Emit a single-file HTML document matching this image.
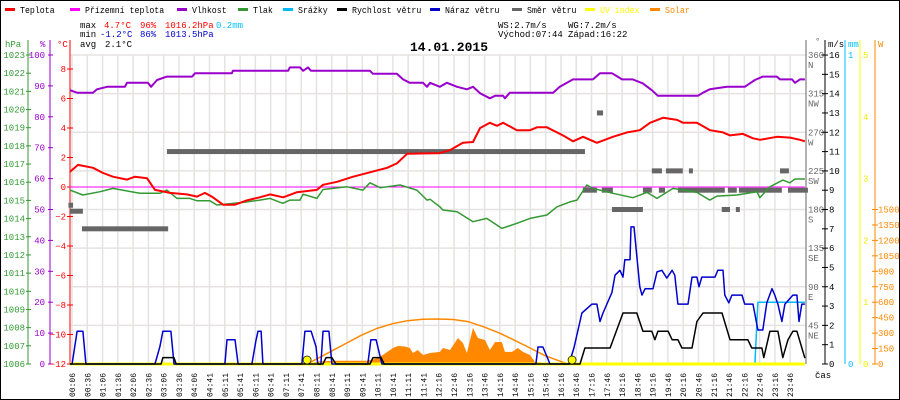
<!DOCTYPE html>
<html><head><meta charset="utf-8"><style>
html,body{margin:0;padding:0;background:#fff}
svg{display:block}
text{font-family:"Liberation Mono",monospace}
</style></head><body>
<svg id="chart" width="900" height="400" viewBox="0 0 900 400" xmlns="http://www.w3.org/2000/svg">
<rect x="0.5" y="0.5" width="899" height="399" fill="#fff" stroke="#000"/>
<g id="grid"></g>
<g id="legend"></g>
<g id="stats" font-size="9">
 <text x="80" y="28" fill="#000">max</text><text x="104" y="28" fill="#f00">4.7°C</text><text x="140" y="28" fill="#f00">96%</text><text x="165" y="28" fill="#f00">1016.2hPa</text><text x="216" y="28" fill="#00bfff">0.2mm</text>
 <text x="80" y="37" fill="#000">min</text><text x="100" y="37" fill="#00c">-1.2°C</text><text x="140" y="37" fill="#00c">86%</text><text x="165" y="37" fill="#00c">1013.5hPa</text>
 <text x="80" y="47" fill="#000">avg</text><text x="105" y="47" fill="#000">2.1°C</text>
 <text x="498" y="28" fill="#000">WS:2.7m/s</text><text x="568" y="28" fill="#000">WG:7.2m/s</text>
 <text x="498" y="37" fill="#000">Východ:07:44</text><text x="568" y="37" fill="#000">Západ:16:22</text>
</g>
<text x="449" y="51" text-anchor="middle" font-size="13" font-weight="bold" fill="#000">14.01.2015</text>
<g id="axes"></g>
<g id="series"></g>
</svg>
<script>
// ===== data =====
const xLabels=["00:06","00:36","01:06","01:36","02:06","02:36","03:06","03:36","04:06","04:41","05:11","05:41","06:11","06:41","07:11","07:41","08:11","08:41","09:11","09:41","10:11","10:41","11:11","11:41","12:16","12:46","13:16","13:46","14:16","14:46","15:16","15:46","16:16","16:46","17:16","17:46","18:16","18:46","19:16","19:46","20:16","20:46","21:16","21:46","22:16","22:46","23:16","23:46"];
const tempT=[0,0.26,0.75,1.08,1.4,1.86,2.12,2.51,2.77,3.26,3.81,4.14,4.4,4.66,4.99,5.38,5.77,6.19,6.52,6.95,7.4,8.05,8.25,8.71,9.23,9.78,10.34,10.66,10.99,12.06,12.39,12.81,13.14,13.37,13.69,13.92,14.12,14.57,15.0,15.23,15.55,16.07,16.4,16.73,17.18,17.7,18.16,18.58,18.91,19.34,19.79,19.99,20.44,20.87,21.29,21.52,21.94,22.27,22.5,23.05,23.48,23.8,23.96];
const tempV=[1.04,1.5,1.3,0.95,0.7,0.5,0.7,0.6,-0.2,-0.4,-0.5,-0.65,-0.4,-0.7,-1.2,-1.2,-0.9,-0.7,-0.5,-0.7,-0.35,-0.2,0.15,0.35,0.7,1.0,1.3,1.6,2.25,2.3,2.5,3.0,3.05,4.0,4.35,4.15,4.35,3.85,3.85,4.05,4.05,3.5,3.1,3.4,3.0,3.4,3.7,3.85,4.35,4.7,4.55,4.35,4.35,3.85,3.7,3.5,3.6,3.3,3.2,3.4,3.35,3.2,3.1];
const feelsT=[0,23.96];
const feelsV=[0,0];
const humT=[0,0.23,0.75,0.88,1.21,1.79,1.86,2.54,2.64,2.84,3.16,3.98,4.08,5.28,5.31,7.11,7.17,7.5,7.6,7.76,7.86,9.78,9.88,10.66,10.86,11.08,11.51,11.64,11.74,12.06,12.29,12.62,12.94,13.14,13.37,13.69,13.86,14.12,14.18,14.34,15.75,15.97,16.4,17.05,17.28,17.67,18.0,18.35,18.68,18.97,19.17,20.47,20.64,20.86,21.42,22.0,22.33,22.59,23.05,23.15,23.54,23.64,23.8,23.96];
const humV=[88.6,87.8,87.8,88.9,89.7,89.7,91,91,89.7,91.9,93,93,94.1,94.1,94.9,94.9,96,96,94.9,96,94.9,94.9,93.9,93.9,92.1,91,91,89.7,91,89.7,91,89.7,88.9,89.7,87.6,86,86.8,86.8,86,87.8,87.8,89.7,92.1,92.1,94.1,94.1,92.1,92.1,90.8,88.6,86.8,86.8,87.8,88.9,89.7,89.7,91.9,93,93,92.1,92.1,91,92.1,92.1];
const presT=[0,0.42,0.98,1.4,2.28,2.93,3.16,3.49,3.91,4.14,4.56,4.79,5.64,6.19,6.52,6.94,7.17,7.5,7.6,8.05,8.25,8.57,9.03,9.55,9.78,10.11,10.76,11.31,11.64,11.74,12.06,12.16,12.62,13.14,13.59,14.08,14.57,15.0,15.55,15.88,16.3,16.53,16.85,17.05,17.7,18.35,18.81,19.14,19.66,20.44,20.86,21.09,21.74,22.4,22.49,22.82,23.24,23.47,23.64,23.96];
const presV=[1015.57,1015.3,1015.48,1015.66,1015.39,1015.39,1015.57,1015.11,1015.11,1014.98,1014.98,1014.75,1014.89,1015.02,1015.11,1014.84,1015.02,1015.02,1015.34,1015.11,1015.6,1015.66,1015.75,1015.57,1015.97,1015.7,1015.85,1015.57,1015.02,1015.06,1014.65,1014.47,1014.38,1013.83,1014.01,1013.46,1013.74,1014.01,1014.2,1014.65,1014.92,1015.02,1015.85,1015.66,1015.39,1015.15,1015.44,1015.11,1015.66,1015.44,1015.02,1015.24,1015.3,1015.48,1015.15,1015.75,1016.12,1015.97,1016.18,1016.18];
const gustT=[0,0.07,0.23,0.42,0.52,2.77,2.93,3.03,3.29,3.39,5.05,5.12,5.38,5.48,5.93,6.06,6.13,6.23,6.29,7.56,7.66,7.86,8.02,8.08,8.18,8.25,8.44,8.54,9.71,9.81,9.98,10.17,15.19,15.26,15.42,15.65,16.27,16.43,16.69,17.02,17.18,17.28,17.38,17.67,17.77,17.93,18.03,18.09,18.26,18.29,18.39,18.48,18.58,18.65,18.75,19.01,19.14,19.3,19.46,19.63,19.72,19.82,20.15,20.28,20.44,20.51,20.6,21.03,21.12,21.29,21.35,21.48,21.58,21.91,22.0,22.27,22.43,22.59,22.72,22.89,22.98,23.08,23.21,23.31,23.57,23.7,23.77,23.86,23.96];
const gustV=[0,0,1.7,1.7,0,0,0.9,1.7,1.7,0,0,1.26,1.26,0,0,1.2,1.7,1.7,0,0,1.7,1.7,0.9,0,0,1.7,1.7,0,0,1.26,1.26,0,0,0.88,0.88,0,0,0.83,2.64,3.1,3.1,2.2,2.64,3.7,4.6,4.85,4.5,5.4,5.4,7.1,7.1,5.6,4.0,3.57,3.9,3.9,4.77,4.85,4.45,4.85,4.6,3.1,3.1,4.5,4.5,4.0,4.5,4.5,4.85,4.85,3.57,3.17,3.57,3.57,3.1,3.1,1.76,1.76,3.17,3.9,3.57,3.1,2.2,3.1,3.57,3.57,2.2,3.1,3.1];
const windT=[0,2.97,3.03,3.39,3.46,8.25,8.35,8.54,8.67,9.78,9.88,10.14,10.24,16.63,16.79,17.61,18.03,18.48,18.68,18.97,19.07,19.17,19.5,19.63,19.82,19.95,20.28,20.44,20.64,21.26,21.52,22.1,22.23,22.56,22.62,22.82,23.08,23.24,23.41,23.57,23.7,23.96];
const windV=[0,0,0.33,0.33,0,0,0.33,0.33,0,0,0.33,0.33,0,0,0.83,0.83,2.64,2.64,1.7,1.7,1.26,1.7,1.7,1.26,1.26,0.83,0.83,2.2,2.64,2.64,1.26,1.26,0.83,0.83,0.33,1.7,1.7,0.33,1.26,1.7,1.7,0.3];
const rainT=[22.33,22.43,23.96];
const rainV=[0,0.2,0.2];
const dirStart=[-0.05,0,0.39,3.16,17.18,17.67,18.97,19.43,20.18,23.15,16.72,17.34,18.68,19.2,19.82,21.45,21.81,23.41,21.25,21.71];
const dirEnd=[0.1,0.42,3.2,16.79,17.38,18.68,19.3,19.98,20.31,23.44,17.18,17.7,18.97,19.4,21.35,21.74,23.21,24.06,21.52,21.84];
const dirV=[185,178,157.5,247.5,292.5,180,225,225,225,225,202.5,202.5,202.5,202.5,202.5,202.5,202.5,202.5,180,180];
const solarT=[7.82,7.92,8.15,8.7,9.68,9.94,10.2,10.53,10.69,10.92,11.08,11.18,11.34,11.51,11.74,12.06,12.16,12.39,12.65,12.81,12.94,13.14,13.3,13.53,13.69,13.86,14.08,14.18,14.41,14.6,14.77,15.0,15.16,15.65,15.75];
const solarV=[0,15,25,32,32,50,87,155,175,170,155,107,136,87,107,117,155,136,252,204,107,350,252,233,136,214,214,117,117,155,117,87,19,10,0];
const clearT=[7.73,8.5,9,9.5,10,10.5,11,11.5,12,12.5,13,13.5,14,14.5,15,15.5,16,16.25];
const clearV=[0,120,200,280,345,390,420,435,437,432,410,360,300,230,155,80,25,0];
const sunT=[7.73,16.37];
// ===== scales =====
const X=h=>70+h*30.67;
const YC=t=>187-t*14.75;
const YP=p=>364-(p-1006)*18.176;
const YH=v=>364-v*3.09;
const YM=v=>364-v*19.31;
const YD=d=>364-d*0.8583;
const YW=w=>364-w*0.103;
const YR=mm=>364-mm*309;
const YU=u=>364-u*61.8;
const NS='http://www.w3.org/2000/svg';
function mk(tag,attrs,parent,txt){const e=document.createElementNS(NS,tag);for(const k in attrs)e.setAttribute(k,attrs[k]);if(txt!==undefined)e.textContent=txt;parent.appendChild(e);return e;}
const G=document.getElementById('grid'),L=document.getElementById('legend'),A=document.getElementById('axes'),S=document.getElementById('series');
// grid
for(let v=2;v<=16;v+=2){const l=mk('line',{x1:70,x2:806,y1:YM(v),y2:YM(v),stroke:'#e6e2e2','stroke-width':1.5},G);

}
xLabels.forEach((lab,i)=>{const x=72+i*15.28;
const l=mk('line',{x1:x,x2:x,y1:55,y2:364,stroke:'#e6e2e2','stroke-width':1.5},G);


const t=mk('text',{x:x+3,y:397,'font-size':8,fill:'#000',transform:`rotate(-90 ${x+3} 397)`},A,lab);

});
// legend
const legNames=["Teplota","Přízemní teplota","Vlhkost","Tlak","Srážky","Rychlost větru","Náraz větru","Směr větru","UV index","Solar"];
const legColors=["#f00","#f0f","#90c","#393","#0bf","#000","#00c","#666","#ff0","#f80"];
const legX=[5,70,177,238,283,337,430,512,585,650];
legNames.forEach((n,i)=>{const g=mk('g',{},L);


mk('rect',{x:legX[i],y:8,width:10,height:3,fill:legColors[i]},g);
mk('text',{x:legX[i]+15,y:13,'font-size':9,fill:(i==8||i==9)?legColors[i]:'#000',textLength:n.length*4.95,lengthAdjust:'spacingAndGlyphs'},g,n);});
// axes left
function axisLine(x,c,name){const l=mk('line',{x1:x,x2:x,y1:40,y2:364,stroke:c,'stroke-width':1},A);}
axisLine(28,'#393','hpa-axis');axisLine(50,'#90c','humidity-axis');axisLine(70,'#f00','temp-axis');
mk('text',{x:5,y:47,'font-size':9,fill:'#393'},A,'hPa');mk('text',{x:40,y:47,'font-size':9,fill:'#90c'},A,'%');mk('text',{x:57,y:47,'font-size':9,fill:'#f00'},A,'°C');
for(let p=1006;p<=1023;p++){mk('text',{x:25,y:YP(p)+3,'font-size':9,fill:'#393','text-anchor':'end'},A,String(p));mk('line',{x1:26,x2:31,y1:YP(p),y2:YP(p),stroke:'#393'},A);}
for(let h=0;h<=100;h+=10){mk('text',{x:45,y:YH(h)+3,'font-size':9,fill:'#90c','text-anchor':'end'},A,String(h));mk('line',{x1:48,x2:53,y1:YH(h),y2:YH(h),stroke:'#90c'},A);}
for(let t=-12;t<=8;t+=2){mk('text',{x:66,y:YC(t)+3,'font-size':9,fill:'#f00','text-anchor':'end'},A,String(t).replace('-','−'));mk('line',{x1:67,x2:73,y1:YC(t),y2:YC(t),stroke:'#f00'},A);}
// axes right
axisLine(806,'#666','direction-axis');axisLine(825,'#000','wind-axis');axisLine(845,'#0bf','rain-axis');axisLine(860,'#ff0','uv-axis');axisLine(875,'#f80','solar-axis');
mk('text',{x:815,y:44,'font-size':9,fill:'#666'},A,'°');mk('text',{x:828,y:47,'font-size':9,fill:'#000'},A,'m/s');mk('text',{x:848,y:47,'font-size':9,fill:'#0bf'},A,'mm');mk('text',{x:878,y:47,'font-size':9,fill:'#f80'},A,'W');
const dirLab=[[360,'N'],[315,'NW'],[270,'W'],[225,'SW'],[180,'S'],[135,'SE'],[90,'E'],[45,'NE']];
dirLab.forEach(d=>{mk('text',{x:808,y:YD(d[0])+3,'font-size':9,fill:'#666'},A,String(d[0]));mk('text',{x:808,y:YD(d[0])+13,'font-size':9,fill:'#666'},A,d[1]);});
for(let v=0;v<=16;v++){mk('text',{x:829,y:YM(v)+3,'font-size':9,fill:'#000'},A,String(v));mk('line',{x1:822,x2:828,y1:YM(v),y2:YM(v),stroke:'#000'},A);}
mk('text',{x:848,y:58,'font-size':9,fill:'#0bf'},A,'1');mk('text',{x:848,y:367,'font-size':9,fill:'#0bf'},A,'0');
for(let u=0;u<=5;u++){mk('text',{x:863,y:YU(u)+3,'font-size':9,fill:'#ee0'},A,String(u));}
for(let w=0;w<=1500;w+=150){mk('text',{x:878,y:YW(w)+3,'font-size':9,fill:'#f80'},A,String(w));mk('line',{x1:872,x2:878,y1:YW(w),y2:YW(w),stroke:'#f80'},A);}
mk('text',{x:815,y:378,'font-size':9,fill:'#000'},A,'čas');
// series helpers
function line(T,V,ys,c,w,name,step){let d='';T.forEach((t,i)=>{const x=X(t),y=ys(V[i]);d+=(i?'L':'M')+x.toFixed(1)+','+y.toFixed(1);});
const p=mk('path',{d:d,fill:'none',stroke:c,'stroke-width':w,'stroke-linejoin':'round'},S);

return p;}
// solar area
let sd='M'+X(solarT[0])+',364';solarT.forEach((t,i)=>{sd+='L'+X(t).toFixed(1)+','+YW(solarV[i]).toFixed(1);});sd+='L'+X(solarT[solarT.length-1])+',364Z';
const sa=mk('path',{d:sd,fill:'#f80'},S);


line(clearT,clearV,YW,'#f80',1.5,'clear-sky-solar-line');
// wind direction bars
dirV.forEach((d,i)=>{const r=mk('rect',{x:X(dirStart[i]),y:YD(d)-2.5,width:X(dirEnd[i])-X(dirStart[i]),height:5,fill:'#666'},S);

});
line(feelsT,feelsV,YC,'#f0f',1,'feels-like-temp-line');
line(humT,humV,YH,'#90c',2,'humidity-line');
line(presT,presV,YP,'#393',1.5,'pressure-line');
line(tempT,tempV,YC,'#f00',2,'temperature-line');
line(rainT,rainV,YR,'#0bf',1.5,'rain-line');
line([0,23.96],[0,0],YM,'#ff0',3,'uv-index-line');
line(gustT,gustV,YM,'#00c',1.5,'wind-gust-line');
line(windT,windV,YM,'#000',1.5,'wind-speed-line');
sunT.forEach(t=>{const c=mk('circle',{cx:X(t),cy:360,r:4,fill:'#ff0',stroke:'#000','stroke-width':0.7},S);

});
</script>
</body></html>
